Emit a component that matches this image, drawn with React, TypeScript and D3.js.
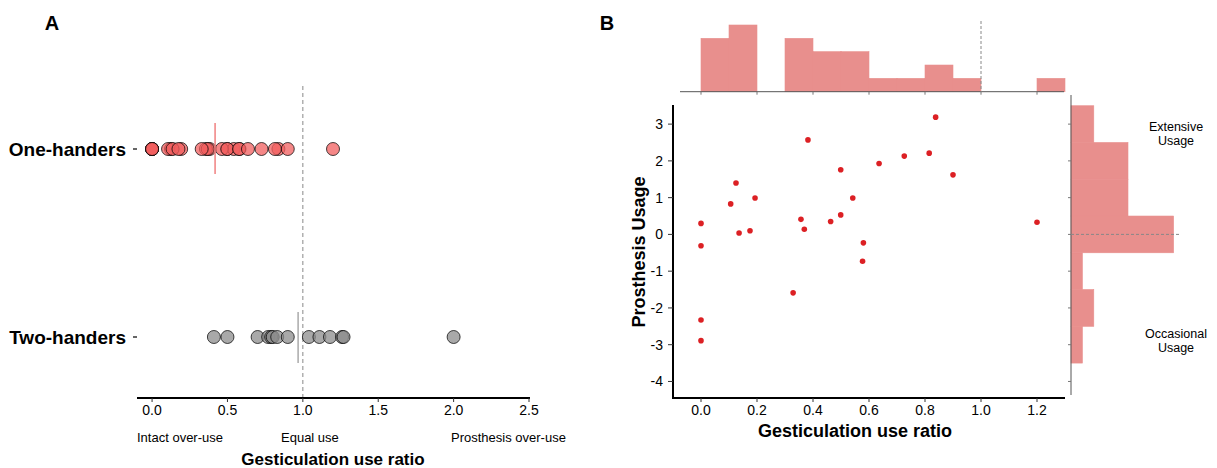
import React from "react";
import * as d3 from "d3";

// one-handers: gesticulation use ratio and prosthesis usage (same participants)
const ratioOne = [0.382, 0.499, 0.125, 0.193, 0.542, 0.106, 0, 0.357, 0.463, 0.499, 0.136, 0.175, 0.369, 0, 0.58, 0.577, 0.329, 0, 0, 0.636, 0.838, 0.726, 0.815, 0.9, 1.2];
const usageOne = [2.57, 1.76, 1.4, 0.99, 0.99, 0.83, 0.3, 0.41, 0.35, 0.53, 0.04, 0.1, 0.14, -0.31, -0.23, -0.73, -1.59, -2.33, -2.89, 1.93, 3.19, 2.13, 2.21, 1.62, 0.33];
const ratioTwo = [0.41, 0.5, 0.7, 0.77, 0.79, 0.8, 0.83, 0.9, 1.04, 1.11, 1.18, 1.26, 1.27, 2.0];

const groups = ["One-handers", "Two-handers"];
const ticksA = [0, 0.5, 1, 1.5, 2, 2.5];
const ticksBx = [0, 0.2, 0.4, 0.6, 0.8, 1, 1.2];
const ticksBy = [-4, -3, -2, -1, 0, 1, 2, 3];
const histXThresholds = d3.range(0, 14).map((i) => i / 10);
const histYThresholds = d3.range(-7, 8, 2).map((i) => i / 2);

const FONT = "'Liberation Sans', Arial, sans-serif";
const RED = "#f25f5f";
const GREY = "#8c8c8c";
const HIST = "#e88f8d";

export default function App() {
  // panel A scales
  const xA = d3.scaleLinear().domain([-0.1, 2.5]).range([137, 529]);
  const yA = d3.scalePoint().domain(groups).range([149, 337]);
  const meanOne = d3.mean(ratioOne) as number;
  const meanTwo = d3.mean(ratioTwo) as number;

  // panel B scales
  const xB = d3.scaleLinear().domain([-0.1, 1.3]).range([673, 1065]);
  const yB = d3.scaleLinear().domain([-4.45, 3.52]).range([398, 105]);
  const binsX = d3.bin().domain([0, 1.3]).thresholds(histXThresholds)(ratioOne);
  const binsY = d3.bin().domain([-3.5, 3.5]).thresholds(histYThresholds)(usageOne);
  const topH = d3.scaleLinear().domain([0, 5]).range([91.7, 25]);
  const sideW = d3.scaleLinear().domain([0, 9]).range([1071, 1173.6]);

  return (
    <svg width={1217} height={468} style={{ position: "absolute", left: 0, top: 0, background: "#fff" }} fontFamily={FONT}>
      {/* ---------- Panel A ---------- */}
      <text x={52} y={30} fontSize={20} fontWeight="bold" textAnchor="middle">A</text>
      <line x1={xA(1)} x2={xA(1)} y1={86} y2={398} stroke="#888" strokeWidth={1} strokeDasharray="4,3" />
      {groups.map((g) => (
        <g key={g}>
          <line x1={133} x2={137} y1={yA(g)} y2={yA(g)} stroke="#333" strokeWidth={1.5} />
          <text x={126} y={(yA(g) as number) + 7} textAnchor="end" fontSize={19} fontWeight="bold">{g}</text>
        </g>
      ))}
      {ratioOne.map((v, i) => (
        <circle key={"o" + i} cx={xA(v)} cy={yA("One-handers")} r={6.5} fill={RED} fillOpacity={0.75} stroke="#000" strokeOpacity={0.8} strokeWidth={0.9} />
      ))}
      {ratioTwo.map((v, i) => (
        <circle key={"t" + i} cx={xA(v)} cy={yA("Two-handers")} r={6.5} fill={GREY} fillOpacity={0.75} stroke="#000" strokeOpacity={0.8} strokeWidth={0.9} />
      ))}
      <line x1={xA(meanOne)} x2={xA(meanOne)} y1={(yA("One-handers") as number) - 26} y2={(yA("One-handers") as number) + 25} stroke="#f08080" strokeWidth={1.5} />
      <line x1={xA(meanTwo)} x2={xA(meanTwo)} y1={(yA("Two-handers") as number) - 25} y2={(yA("Two-handers") as number) + 26} stroke="#aaa" strokeWidth={1.5} />
      <line x1={137} x2={530} y1={398} y2={398} stroke="#000" strokeWidth={2} />
      {ticksA.map((t) => (
        <g key={t}>
          <line x1={xA(t)} x2={xA(t)} y1={398} y2={402} stroke="#333" />
          <text x={xA(t)} y={415} textAnchor="middle" fontSize={14}>{t.toFixed(1)}</text>
        </g>
      ))}
      <text x={137} y={442} fontSize={13}>Intact over-use</text>
      <text x={281} y={442} fontSize={13}>Equal use</text>
      <text x={451} y={442} fontSize={13}>Prosthesis over-use</text>
      <text x={333} y={465} textAnchor="middle" fontSize={17} fontWeight="bold">Gesticulation use ratio</text>

      {/* ---------- Panel B ---------- */}
      <text x={607} y={30} fontSize={20} fontWeight="bold" textAnchor="middle">B</text>

      {/* top histogram */}
      {binsX.map((b, i) => (
        b.length > 0 ? (
          <rect key={"hx" + i} x={xB(b.x0 as number)} y={topH(b.length)} width={xB(b.x1 as number) - xB(b.x0 as number)} height={topH(0) - topH(b.length)} fill={HIST} stroke={HIST} strokeWidth={0.6} />
        ) : null
      ))}
      <line x1={680} x2={1064} y1={topH(0)} y2={topH(0)} stroke="#555" strokeWidth={1} />
      {ticksBx.map((t) => (
        <line key={"tx" + t} x1={xB(t)} x2={xB(t)} y1={topH(0)} y2={topH(0) + 3} stroke="#777" />
      ))}
      <line x1={xB(1)} x2={xB(1)} y1={21} y2={topH(0)} stroke="#888" strokeDasharray="3,2" />

      {/* side histogram */}
      {binsY.map((b, i) => (
        b.length > 0 ? (
          <rect key={"hy" + i} x={sideW(0)} y={yB(b.x1 as number)} width={sideW(b.length) - sideW(0)} height={yB(b.x0 as number) - yB(b.x1 as number)} fill={HIST} stroke={HIST} strokeWidth={0.6} />
        ) : null
      ))}
      <line x1={sideW(0)} x2={sideW(0)} y1={95} y2={395} stroke="#555" strokeWidth={1} />
      {ticksBy.map((t) => (
        <line key={"ty" + t} x1={sideW(0) - 3} x2={sideW(0)} y1={yB(t)} y2={yB(t)} stroke="#777" />
      ))}
      <line x1={sideW(0)} x2={1180} y1={yB(0)} y2={yB(0)} stroke="#888" strokeDasharray="3,2" />
      <text x={1176} y={131} textAnchor="middle" fontSize={12.5}>Extensive</text>
      <text x={1176} y={145} textAnchor="middle" fontSize={12.5}>Usage</text>
      <text x={1176} y={338} textAnchor="middle" fontSize={12.5}>Occasional</text>
      <text x={1176} y={352} textAnchor="middle" fontSize={12.5}>Usage</text>

      {/* scatter */}
      {ratioOne.map((v, i) => (
        <circle key={"s" + i} cx={xB(v)} cy={yB(usageOne[i])} r={2.8} fill="#dc2024" />
      ))}
      <line x1={673} x2={673} y1={105} y2={399} stroke="#000" strokeWidth={2} />
      <line x1={672} x2={1065} y1={398} y2={398} stroke="#000" strokeWidth={2} />
      {ticksBy.map((t) => (
        <g key={"by" + t}>
          <line x1={668} x2={673} y1={yB(t)} y2={yB(t)} stroke="#333" />
          <text x={663} y={yB(t) + 5} textAnchor="end" fontSize={14}>{t}</text>
        </g>
      ))}
      {ticksBx.map((t) => (
        <g key={"bx" + t}>
          <line x1={xB(t)} x2={xB(t)} y1={398} y2={402} stroke="#333" />
          <text x={xB(t)} y={415} textAnchor="middle" fontSize={14}>{t.toFixed(1)}</text>
        </g>
      ))}
      <text x={855} y={437} textAnchor="middle" fontSize={18} fontWeight="bold">Gesticulation use ratio</text>
      <text transform={`translate(645,252) rotate(-90)`} textAnchor="middle" fontSize={18} fontWeight="bold">Prosthesis Usage</text>
    </svg>
  );
}
